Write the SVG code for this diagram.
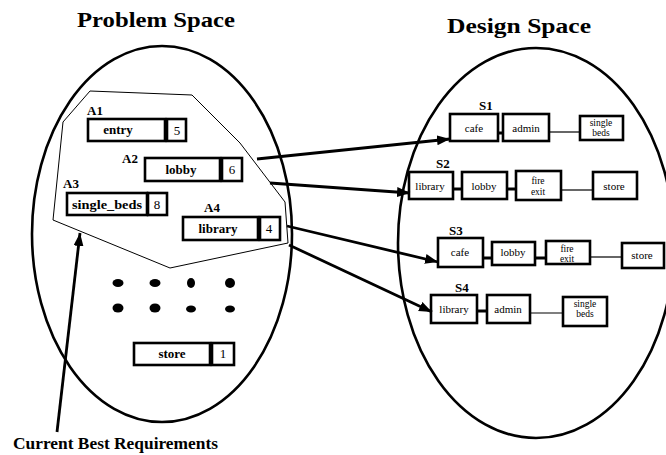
<svg xmlns="http://www.w3.org/2000/svg" width="666" height="455" viewBox="0 0 666 455">
  <style>
    .title { font-family: "Liberation Serif", "Times New Roman", serif; font-weight: bold; font-size: 22px; fill: #000; }
    .lbl { font-family: "Liberation Serif", "Times New Roman", serif; font-weight: bold; font-size: 13px; fill: #000; }
    .req { font-family: "Liberation Serif", "Times New Roman", serif; font-weight: bold; font-size: 13px; fill: #000; text-anchor: middle; }
    .num { font-family: "Liberation Serif", "Times New Roman", serif; font-size: 13px; fill: #000; text-anchor: middle; }
    .room { font-family: "Liberation Serif", "Times New Roman", serif; font-size: 11px; fill: #000; text-anchor: middle; }
    .room2 { font-family: "Liberation Serif", "Times New Roman", serif; font-size: 9.5px; fill: #000; text-anchor: middle; }
    .box { fill: #fff; stroke: #000; stroke-width: 2.6; }
    .space { fill: none; stroke: #000; stroke-width: 2.6; }
    .hull { fill: none; stroke: #000; stroke-width: 1; }
    .arrow { fill: none; stroke: #000; stroke-width: 2.8; marker-end: url(#head); }
    .link { stroke: #000; stroke-width: 3; }
    .thin { stroke: #000; stroke-width: 1.2; }
    .dot { fill: #000; }
  </style>
  <defs>
    <marker id="head" markerUnits="userSpaceOnUse" markerWidth="14" markerHeight="12" refX="13" refY="5" orient="auto">
      <path d="M0,0 L13,5 L0,10 z" fill="#000"/>
    </marker>
  </defs>

  <rect width="666" height="455" fill="#fff"/>

  <!-- titles -->
  <text class="title" x="77" y="27" textLength="158" lengthAdjust="spacingAndGlyphs">Problem Space</text>
  <text class="title" x="447" y="33" textLength="144" lengthAdjust="spacingAndGlyphs">Design Space</text>

  <!-- the two spaces -->
  <ellipse id="problem-space" class="space" cx="162" cy="234" rx="130" ry="188"/>
  <ellipse id="design-space" class="space" cx="536" cy="243" rx="138" ry="195"/>

  <!-- current best requirements region -->
  <polygon id="best-region" class="hull" points="90,91 192,95 240,143 285,202 288,243 170,268 53,220 63,122"/>

  <!-- requirements -->
  <g id="A1">
    <text class="lbl" x="87" y="115">A1</text>
    <rect class="box" x="88" y="119" width="77" height="22"/>
    <rect class="box" x="167" y="119" width="19" height="22"/>
    <text class="req" x="118" y="134">entry</text>
    <text class="num" x="177" y="135">5</text>
  </g>
  <g id="A2">
    <text class="lbl" x="122" y="163">A2</text>
    <rect class="box" x="145" y="158" width="75" height="23"/>
    <rect class="box" x="222" y="158" width="20" height="23"/>
    <text class="req" x="181" y="174">lobby</text>
    <text class="num" x="232" y="174">6</text>
  </g>
  <g id="A3">
    <text class="lbl" x="63" y="188">A3</text>
    <rect class="box" x="67" y="193" width="80" height="22"/>
    <rect class="box" x="148" y="193" width="19" height="22"/>
    <text class="req" x="107" y="209" textLength="70" lengthAdjust="spacingAndGlyphs">single_beds</text>
    <text class="num" x="157" y="209">8</text>
  </g>
  <g id="A4">
    <text class="lbl" x="204" y="212">A4</text>
    <rect class="box" x="183" y="217" width="75" height="23"/>
    <rect class="box" x="260" y="217" width="20" height="23"/>
    <text class="req" x="218" y="233">library</text>
    <text class="num" x="269" y="233">4</text>
  </g>

  <!-- remaining requirements -->
  <g id="others">
    <ellipse class="dot" cx="118" cy="283" rx="5.5" ry="4"/>
    <ellipse class="dot" cx="155" cy="283" rx="5.5" ry="4"/>
    <ellipse class="dot" cx="191" cy="283" rx="4" ry="5"/>
    <ellipse class="dot" cx="230" cy="283" rx="5" ry="5"/>
    <ellipse class="dot" cx="118" cy="308" rx="5.5" ry="4.5"/>
    <ellipse class="dot" cx="155" cy="308" rx="5.5" ry="4.5"/>
    <ellipse class="dot" cx="191" cy="309" rx="5" ry="3.5"/>
    <ellipse class="dot" cx="230" cy="309" rx="5" ry="3.5"/>
  </g>
  <g id="store-req">
    <rect class="box" x="134" y="343" width="76" height="22"/>
    <rect class="box" x="212" y="343" width="22" height="22"/>
    <text class="req" x="172" y="358">store</text>
    <text class="num" x="223" y="358">1</text>
  </g>

  <!-- designs -->
  <g id="S1">
    <text class="lbl" x="479" y="110">S1</text>
    <line class="link" x1="497" y1="133" x2="504" y2="133"/>
    <line class="thin" x1="549" y1="132" x2="580" y2="132"/>
    <rect class="box" x="450" y="114" width="48" height="27"/>
    <rect class="box" x="503" y="114" width="46" height="27"/>
    <rect class="box" x="580" y="116" width="43" height="24"/>
    <text class="room" x="474" y="132">cafe</text>
    <text class="room" x="526" y="132">admin</text>
    <text class="room2" x="601" y="126">single</text>
    <text class="room2" x="601" y="136">beds</text>
  </g>
  <g id="S2">
    <text class="lbl" x="436" y="168">S2</text>
    <line class="link" x1="452" y1="189" x2="463" y2="189"/>
    <line class="link" x1="506" y1="189" x2="517" y2="189"/>
    <line class="thin" x1="561" y1="190" x2="593" y2="190"/>
    <rect class="box" x="409" y="172" width="44" height="27"/>
    <rect class="box" x="462" y="172" width="45" height="27"/>
    <rect class="box" x="516" y="171" width="45" height="29"/>
    <rect class="box" x="593" y="172" width="44" height="27"/>
    <text class="room" x="430" y="190">library</text>
    <text class="room" x="484" y="190">lobby</text>
    <text class="room2" x="538" y="184">fire</text>
    <text class="room2" x="538" y="195">exit</text>
    <text class="room" x="614" y="190">store</text>
  </g>
  <g id="S3">
    <text class="lbl" x="449" y="235">S3</text>
    <line class="link" x1="482" y1="258" x2="493" y2="258"/>
    <line class="link" x1="534" y1="258" x2="547" y2="258"/>
    <line class="thin" x1="590" y1="257" x2="622" y2="257"/>
    <rect class="box" x="438" y="238" width="45" height="29"/>
    <rect class="box" x="492" y="242" width="43" height="23"/>
    <rect class="box" x="546" y="241" width="44" height="23"/>
    <rect class="box" x="622" y="243" width="42" height="25"/>
    <text class="room" x="460" y="256">cafe</text>
    <text class="room" x="513" y="256">lobby</text>
    <text class="room2" x="567" y="252">fire</text>
    <text class="room2" x="567" y="262">exit</text>
    <text class="room" x="642" y="259">store</text>
  </g>
  <g id="S4">
    <text class="lbl" x="455" y="292">S4</text>
    <line class="link" x1="476" y1="311" x2="488" y2="311"/>
    <line class="thin" x1="530" y1="313" x2="563" y2="313"/>
    <rect class="box" x="431" y="295" width="46" height="28"/>
    <rect class="box" x="487" y="295" width="43" height="28"/>
    <rect class="box" x="563" y="297" width="44" height="29"/>
    <text class="room" x="454" y="313">library</text>
    <text class="room" x="508" y="313">admin</text>
    <text class="room2" x="585" y="307">single</text>
    <text class="room2" x="585" y="317">beds</text>
  </g>

  <!-- connectors -->
  <g id="connectors">
    <line class="arrow" x1="257" y1="159" x2="450" y2="139"/>
    <line class="arrow" x1="270" y1="183" x2="410" y2="193"/>
    <line class="arrow" x1="287" y1="226" x2="438" y2="262"/>
    <line class="arrow" x1="289" y1="245" x2="432" y2="312"/>
    <line class="arrow" x1="57" y1="432" x2="80" y2="233"/>
  </g>

  <text class="lbl" x="13" y="449" style="font-size:17px" textLength="205" lengthAdjust="spacingAndGlyphs">Current Best Requirements</text>
</svg>
